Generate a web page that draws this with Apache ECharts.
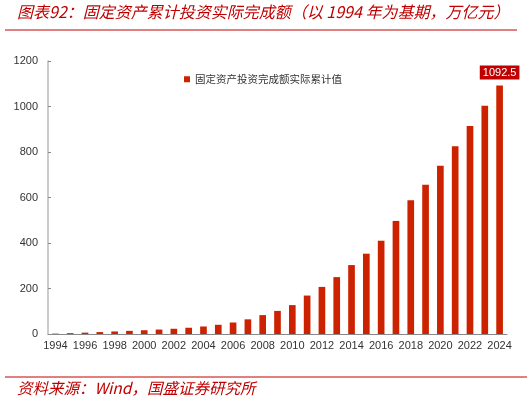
<!DOCTYPE html>
<html style="height: 100%">
<head>
    <meta charset="utf-8">
</head>
<body style="height: 100%; margin: 0; background: #fff">
    <div id="container" style="width: 532px; height: 401px"></div>
    <script src="https://cdn.jsdelivr.net/npm/echarts@6/dist/echarts.min.js"></script>
    <script type="text/javascript">
        // 年份 & 累计值（万亿元，以1994年为基期）
        var years = ['1994', '1995', '1996', '1997', '1998', '1999', '2000', '2001', '2002', '2003',
            '2004', '2005', '2006', '2007', '2008', '2009', '2010', '2011', '2012', '2013',
            '2014', '2015', '2016', '2017', '2018', '2019', '2020', '2021', '2022', '2023', '2024'];
        var cumValues = [1.7, 3.8, 6.0, 8.5, 11.2, 13.8, 16.5, 19.5, 23.0, 27.5,
            33.0, 40.5, 50.5, 64.5, 83.0, 101.5, 127.0, 169.0, 207.0, 250.0,
            303.0, 353.0, 410.0, 497.0, 588.0, 656.0, 740.0, 825.0, 914.0, 1003.0, 1092.5];
        var yTicks = [0, 200, 400, 600, 800, 1000, 1200];
        var seriesName = '固定资产投资完成额实际累计值';

        var red = '#C00000';
        var barRed = '#CC2200';
        var font = 'Arial, "Liberation Sans", "Noto Sans CJK SC", sans-serif';
        var cjk = '"Noto Sans CJK SC", sans-serif';

        var dom = document.getElementById("container");
        var myChart = echarts.init(dom);
        var last = cumValues.length - 1;

        option = {
            animation: false,
            textStyle: { fontFamily: font },
            graphic: [
                {
                    type: 'text', left: 17, top: 4,
                    style: {
                        text: '图表92：固定资产累计投资实际完成额（以 1994 年为基期，万亿元）',
                        fill: red, fontSize: 16, fontStyle: 'italic', fontFamily: cjk
                    }
                },
                { type: 'line', shape: { x1: 5, y1: 30, x2: 517, y2: 30 }, style: { stroke: red, lineWidth: 1 } },
                { type: 'line', shape: { x1: 5, y1: 377, x2: 527, y2: 377 }, style: { stroke: red, lineWidth: 1 } },
                {
                    type: 'text', left: 17, top: 380,
                    style: {
                        text: '资料来源：Wind，国盛证券研究所',
                        fill: red, fontSize: 15.5, fontStyle: 'italic', fontFamily: cjk
                    }
                }
            ],
            legend: {
                data: [seriesName],
                left: 179, top: 69,
                itemWidth: 6, itemHeight: 6, itemGap: 3,
                icon: 'rect',
                textStyle: { color: '#333', fontSize: 10.5, fontFamily: cjk }
            },
            grid: { left: 48, right: 25, top: 61, bottom: 67 },
            xAxis: {
                type: 'category',
                data: years,
                axisLine: { lineStyle: { color: '#888', width: 1 } },
                axisTick: { inside: true, length: 3, lineStyle: { color: '#888' } },
                axisLabel: { interval: 1, color: '#333', fontSize: 11, margin: 6 }
            },
            yAxis: {
                type: 'value',
                min: yTicks[0], max: yTicks[yTicks.length - 1], interval: 200,
                splitLine: { show: false },
                axisLine: { show: true, lineStyle: { color: '#bbb', width: 1.5 } },
                axisTick: { show: true, inside: true, length: 3, lineStyle: { color: '#888' } },
                axisLabel: {
                    color: '#333', fontSize: 11, margin: 10,
                    formatter: function (v) { return String(v); }
                }
            },
            series: [{
                name: seriesName,
                type: 'bar',
                barWidth: '45%',
                itemStyle: { color: barRed },
                data: cumValues.map(function (v, i) {
                    if (i === last) {
                        return {
                            value: v,
                            label: {
                                show: true, position: 'top', distance: 6,
                                color: '#fff', backgroundColor: red,
                                padding: [2, 3, 1, 3], fontSize: 11,
                                formatter: function (p) { return p.value.toFixed(1); }
                            }
                        };
                    }
                    return v;
                })
            }]
        };

        myChart.setOption(option);
    </script>
</body>
</html>
